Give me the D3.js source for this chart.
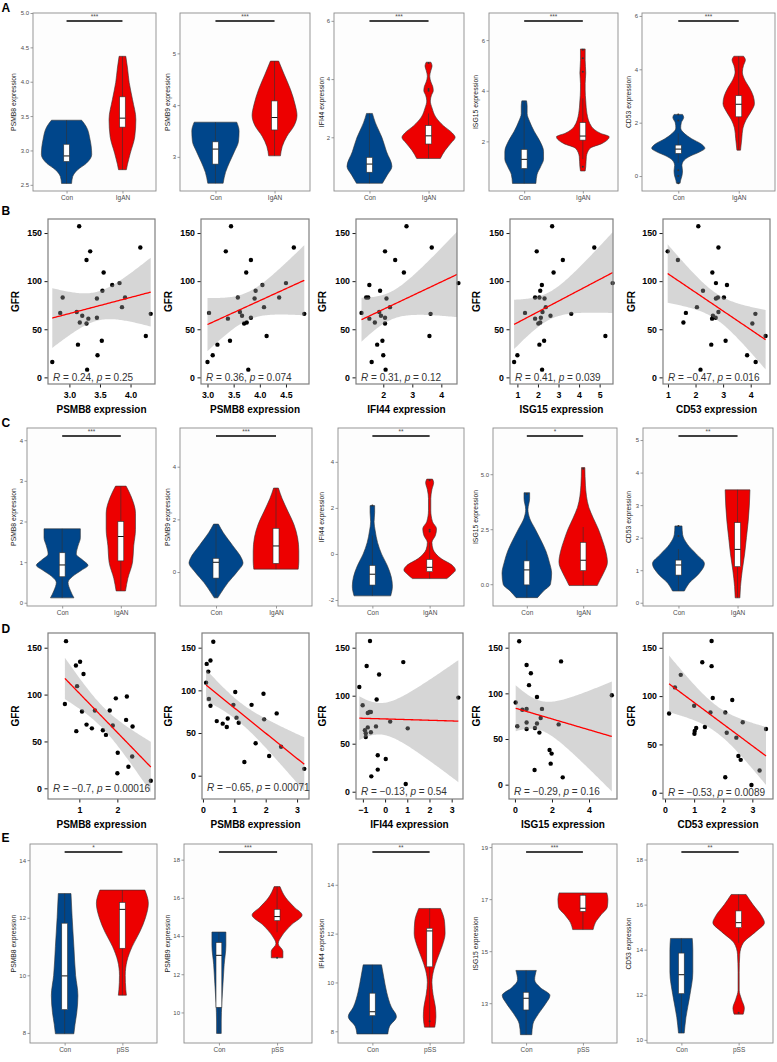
<!DOCTYPE html>
<html>
<head>
<meta charset="utf-8">
<script src="https://cdn.jsdelivr.net/npm/d3@7"></script>
<style>
body { margin: 0; background: #fff; }
svg { display: block; }
</style>
</head>
<body>
<script>
// ---------- data ----------
var genes = ["PSMB8", "PSMB9", "IFI44", "ISG15", "CD53"];
var corrGenes = ["PSMB8", "PSMB8", "IFI44", "ISG15", "CD53"];

// violin outlines: [expression, half width as share of the spacing between groups]
// boxes: [lower whisker, q1, median, q3, upper whisker]
var aGroups = ["Con", "IgAN"];
var aStars = ["***", "***", "***", "***", "***"];
var aConShape = [
  [[3.44,0.27],[3.35,0.35],[3.16,0.42],[2.94,0.45],[2.81,0.35],[2.72,0.2],[2.62,0.11],[2.52,0.09]],
  [[3.67,0.36],[3.5,0.4],[3.3,0.39],[3.1,0.32],[2.9,0.24],[2.7,0.17],[2.49,0.13]],
  [[2.82,0.05],[2.5,0.1],[2.0,0.21],[1.5,0.29],[1.0,0.38],[0.7,0.3],[0.42,0.22]],
  [[3.6,0.04],[3.4,0.05],[3.1,0.05],[2.8,0.09],[2.4,0.17],[2.0,0.27],[1.6,0.33],[1.3,0.33],[1.0,0.28],[0.7,0.22],[0.34,0.2]],
  [[2.31,0.07],[2.2,0.09],[2.0,0.05],[1.8,0.04],[1.6,0.1],[1.4,0.22],[1.2,0.38],[1.04,0.44],[0.9,0.35],[0.75,0.2],[0.6,0.1],[0.4,0.06],[0.2,0.07],[0.0,0.06],[-0.15,0.04],[-0.27,0.03]]
];
var aCaseShape = [
  [[4.37,0.06],[4.2,0.09],[3.99,0.12],[3.74,0.18],[3.45,0.24],[3.2,0.22],[2.96,0.14],[2.8,0.09],[2.72,0.07]],
  [[4.85,0.07],[4.6,0.16],[4.3,0.27],[4.0,0.35],[3.8,0.38],[3.6,0.33],[3.4,0.21],[3.2,0.13],[3.02,0.1]],
  [[4.58,0.04],[4.45,0.06],[4.3,0.04],[4.1,0.02],[3.9,0.04],[3.75,0.07],[3.6,0.08],[3.45,0.05],[3.25,0.03],[3.0,0.06],[2.7,0.12],[2.4,0.25],[2.15,0.4],[2.0,0.45],[1.8,0.38],[1.55,0.28],[1.27,0.2]],
  [[5.65,0.04],[5.2,0.04],[4.7,0.05],[4.29,0.04],[4.03,0.04],[3.6,0.05],[3.1,0.07],[2.58,0.15],[2.32,0.3],[2.18,0.45],[1.92,0.33],[1.72,0.12],[1.39,0.06],[1.0,0.05],[0.83,0.04]],
  [[4.49,0.08],[4.35,0.11],[4.15,0.08],[3.9,0.06],[3.6,0.1],[3.3,0.18],[3.0,0.24],[2.72,0.26],[2.4,0.2],[2.1,0.12],[1.8,0.07],[1.4,0.05],[0.97,0.03]]
];
var aConBox = [[2.52,2.84,2.92,3.09,3.44],[2.49,2.86,3.15,3.29,3.67],[0.42,0.80,1.08,1.31,2.82],[0.34,0.93,1.29,1.68,3.6],[0.5,0.85,1.01,1.16,1.6]];
var aCaseBox = [[2.72,3.34,3.47,3.78,4.37],[3.02,3.52,3.76,4.08,4.85],[1.27,1.77,2.05,2.40,2.82],[1.3,2.05,2.21,2.74,3.7],[0.97,2.22,2.69,3.01,4.49]];
var aConOut = [[],[],[],[],[2.31,2.08,0.22,0.0,-0.27]];
var aCaseOut = [[],[],[4.55,3.66,3.6],[5.62,5.28,4.75,1.0],[]];
var aDomains = [[2.41,5.0],[2.34,5.78],[0.155,6.27],[0.04,7.07],[-0.56,6.11]];
var aTicks = [[2.5,3,3.5,4,4.5,5],[3,4,5],[2,4,6],[2,4,6],[0,2,4,6]];

var cGroups = ["Con", "IgAN"];
var cStars = ["***", "***", "**", "*", "**"];
var cConShape = [
  [[1.82,0.31],[1.6,0.31],[1.4,0.27],[1.2,0.24],[1.05,0.35],[0.92,0.44],[0.8,0.33],[0.65,0.18],[0.5,0.1],[0.3,0.14],[0.12,0.2]],
  [[1.82,0.04],[1.5,0.12],[1.0,0.28],[0.5,0.43],[0.35,0.45],[0.0,0.35],[-0.4,0.2],[-0.8,0.08],[-0.98,0.03]],
  [[2.1,0.04],[1.8,0.04],[1.4,0.03],[1.0,0.05],[0.5,0.09],[0.0,0.16],[-0.5,0.26],[-1.0,0.33],[-1.4,0.35],[-1.82,0.32]],
  [[4.16,0.05],[3.9,0.05],[3.4,0.02],[3.0,0.05],[2.5,0.15],[2.0,0.25],[1.5,0.34],[1.0,0.4],[0.5,0.44],[0.0,0.42],[-0.3,0.3],[-0.61,0.19]],
  [[2.36,0.06],[2.1,0.07],[1.8,0.15],[1.5,0.3],[1.2,0.44],[0.9,0.35],[0.6,0.18],[0.36,0.1]]
];
var cCaseShape = [
  [[2.87,0.09],[2.6,0.18],[2.2,0.25],[1.8,0.25],[1.4,0.22],[1.0,0.2],[0.6,0.12],[0.29,0.08]],
  [[3.19,0.04],[2.8,0.1],[2.3,0.2],[1.8,0.3],[1.3,0.36],[0.8,0.38],[0.4,0.38],[0.11,0.37]],
  [[3.25,0.05],[3.1,0.07],[2.8,0.04],[2.4,0.02],[1.9,0.02],[1.4,0.05],[1.1,0.12],[0.8,0.1],[0.5,0.04],[0.2,0.06],[-0.2,0.2],[-0.5,0.4],[-0.7,0.45],[-0.9,0.38],[-1.07,0.3]],
  [[5.3,0.03],[4.5,0.04],[3.5,0.1],[3.0,0.18],[2.5,0.27],[2.0,0.34],[1.5,0.4],[1.0,0.43],[0.5,0.36],[0.2,0.3],[-0.06,0.25]],
  [[3.47,0.21],[3.0,0.2],[2.5,0.18],[2.0,0.15],[1.5,0.12],[1.0,0.08],[0.5,0.05],[0.15,0.04]]
];
var cConBox = [[0.12,0.64,0.93,1.23,1.82],[-0.98,-0.23,0.37,0.52,1.82],[-1.82,-1.35,-0.88,-0.5,0.8],[-0.61,-0.03,0.65,1.06,2.0],[0.36,0.85,1.16,1.31,1.65]];
var cCaseBox = [[0.29,1.03,1.63,2.0,2.87],[0.11,0.33,0.99,1.66,3.19],[-1.07,-0.77,-0.58,-0.24,0.5],[-0.06,0.62,1.09,1.90,2.6],[0.15,1.11,1.64,2.46,3.47]];
var cConOut = [[],[],[2.1],[4.1],[2.36,2.05]];
var cCaseOut = [[],[],[3.2,1.05,0.98],[5.25],[]];
var cDomains = [[-0.08,4.30],[-1.29,5.47],[-2.26,5.47],[-0.99,7.1],[-0.1,5.37]];
var cTicks = [[0,1,2,3,4],[0,2,4],[-2,0,2,4],[0,2.5,5],[0,1,2,3,4,5]];

var eGroups = ["Con", "pSS"];
var eStars = ["*", "***", "**", "***", "**"];
var eConShape = [
  [[12.84,0.11],[12,0.13],[11,0.16],[10,0.19],[9.3,0.23],[8.7,0.21],[8.3,0.18],[7.97,0.16]],
  [[14.21,0.12],[13.5,0.12],[12.5,0.09],[11.5,0.07],[10.5,0.05],[9.5,0.04],[8.9,0.04]],
  [[10.72,0.16],[10.2,0.2],[9.6,0.25],[9.0,0.33],[8.6,0.42],[8.2,0.3],[7.89,0.27]],
  [[14.26,0.18],[13.9,0.15],[13.6,0.25],[13.3,0.42],[13.0,0.35],[12.6,0.22],[12.2,0.12],[11.79,0.1]],
  [[14.5,0.19],[14.0,0.2],[13.0,0.2],[12.0,0.15],[11.0,0.08],[10.3,0.05]]
];
var eCaseShape = [
  [[12.96,0.39],[12.5,0.45],[12.0,0.4],[11.5,0.3],[11.0,0.17],[10.5,0.08],[10.0,0.05],[9.5,0.06],[9.31,0.07]],
  [[16.59,0.05],[16.0,0.15],[15.5,0.3],[15.1,0.43],[14.6,0.25],[14.0,0.08],[13.6,0.02],[13.2,0.1],[12.86,0.1]],
  [[13.03,0.19],[12.5,0.26],[12.0,0.27],[11.5,0.22],[11.0,0.14],[10.5,0.07],[10.0,0.04],[9.5,0.06],[9.0,0.1],[8.6,0.11],[8.17,0.09]],
  [[17.24,0.42],[17.0,0.44],[16.7,0.43],[16.4,0.32],[16.1,0.22],[15.83,0.18]],
  [[16.45,0.13],[16.0,0.25],[15.5,0.4],[15.2,0.45],[14.8,0.3],[14.3,0.08],[13.8,0.02],[13.0,0.01],[12.2,0.01],[11.8,0.05],[11.4,0.1],[11.14,0.08]]
];
var eConBox = [[7.97,8.81,9.98,11.81,12.84],[8.9,10.27,12.99,13.66,14.21],[7.89,8.64,8.80,9.56,10.72],[11.79,12.74,13.19,13.42,14.26],[10.3,12.05,12.89,13.85,14.5]];
var eCaseBox = [[9.31,10.94,12.29,12.53,12.96],[14.2,14.81,15.02,15.4,16.59],[8.17,10.64,12.11,12.22,13.03],[15.83,16.53,16.65,17.15,17.24],[14.3,14.98,15.2,15.72,16.45]];
var eConOut = [[],[],[],[],[]];
var eCaseOut = [[],[12.86],[8.41],[],[11.2]];
var eDomains = [[7.65,14.56],[8.4,18.82],[7.52,15.67],[11.47,19.12],[9.86,18.69]];
var eTicks = [[8,10,12,14],[10,12,14,16,18],[8,10,12,14],[13,15,17,19],[10,12,14,16,18]];

// GFR of the patients, same order for every gene in a row
var gfrB = [157,135,131,122,109,98,96,90,83,83,82,73,68,67,66,64,62,61,57,56,43,38,34,23,16,8];
var b1X = [3.16,4.16,3.34,3.28,3.56,3.82,3.70,3.54,2.89,3.91,3.45,3.86,3.12,2.85,4.33,3.21,3.45,3.31,3.17,3.28,4.25,3.53,3.14,3.46,2.72,3.29];
var b2X = [3.45,4.65,3.35,3.83,3.74,4.50,4.05,3.92,3.58,4.37,3.90,4.08,3.62,3.03,4.85,3.66,3.83,3.39,3.75,3.70,4.13,3.43,3.19,3.10,3.00,3.78];
var b3X = [2.80,3.67,2.06,2.41,2.71,4.59,1.52,1.89,1.41,1.48,2.11,2.23,1.86,1.25,3.63,1.92,2.06,1.52,1.71,2.06,3.59,1.97,1.79,2.00,1.60,2.08];
var b4X = [2.69,4.74,1.94,3.21,2.76,5.63,2.19,2.11,1.86,2.07,2.32,2.38,2.22,1.37,3.62,2.61,2.14,1.86,2.11,2.02,5.28,2.30,2.07,1.00,0.84,2.20];
var b5X = [2.10,2.83,0.99,1.36,2.61,2.74,3.14,2.27,3.03,2.81,2.74,2.05,2.83,1.65,4.17,2.63,2.73,2.60,1.56,4.06,4.54,3.09,2.57,3.87,4.18,2.18];
var bLabels = ["0.24|0.25", "0.36|0.074", "0.31|0.12", "0.41|0.039", "\u22120.47|0.016"];
var bXTicks = [[3.0,3.5,4.0],[3.0,3.5,4.0,4.5],[2,3,4],[1,2,3,4,5],[1,2,3,4]];

var gfrD = [157,135,131,122,109,98,96,90,83,83,82,73,68,67,66,64,62,61,57,38,34,23,16,8];
var d1X = [0.65,1.02,0.91,1.11,0.94,2.25,1.96,0.62,1.41,1.80,1.07,2.23,1.19,1.88,2.40,1.33,1.62,0.92,1.70,2.01,2.39,2.29,2.00,2.88];
var d2X = [0.33,0.24,0.12,0.17,0.10,1.03,1.93,0.19,0.97,1.55,0.24,2.35,1.07,0.79,1.95,0.44,1.14,0.63,0.76,1.68,2.49,2.11,1.32,3.23];
var d3X = [-0.68,0.82,-0.83,-0.27,-1.16,3.30,-0.38,-1.01,-0.70,-0.64,-0.78,0.23,-0.41,-0.78,1.02,-0.91,-0.64,-0.87,-0.87,-0.33,0.03,-0.33,-0.62,0.93];
var d4X = [0.23,2.49,0.63,0.86,0.76,5.23,1.19,0.04,0.63,1.46,0.40,1.39,0.63,1.19,2.36,0.13,1.08,0.63,1.32,1.87,1.98,1.93,1.06,2.58];
var d5X = [1.60,1.28,1.60,0.54,0.34,1.64,2.31,1.00,1.56,2.07,0.14,2.67,1.37,1.07,3.47,1.02,2.12,1.01,2.45,2.52,2.60,3.25,2.07,2.97];
var dLabels = ["\u22120.7|0.00016", "\u22120.65|0.00071", "\u22120.13|0.54", "\u22120.29|0.16", "\u22120.53|0.0089"];
var dXTicks = [[1,2],[0,1,2,3],[-1,0,1,2,3],[0,2,4],[0,1,2,3]];
var gfrTicks = [0,50,100,150];

// ---------- layout ----------
var FONT = "'Liberation Sans', Arial, Helvetica, sans-serif";
var conColor = "#00468B", caseColor = "#ED0000";
var titleX = [14, 168, 321.5, 475.5, 629];
var gfrTitleX = [15, 168.5, 322.5, 476.5, 631];

var rowA = { top: 13, bottom: 191, left: [33,180,334,489,642], right: [156,310,464,618,775] };
var rowC = { top: 428, bottom: 606, left: [27,180,338,493,643], right: [156,312,464,617,773] };
var rowE = { top: 844, bottom: 1043, left: [30,184,338,492,647], right: [157,312,464,617,773] };
var rowB = { top: 219, bottom: 384, left: [48,201,356,510,663], right: [155,309,457,613,770],
  xDom: [[2.65,4.40],[2.876,4.94],[1.06,4.54],[0.64,5.65],[0.82,4.70]],
  yDom: [[-6.9,164.6],[-6.9,164.6],[-6.9,164.6],[-6.9,164.6],[-6.9,164.6]],
  labelY: [0,0,0,0,0] };
var rowD = { top: 633, bottom: 799, left: [48,202,356,509,663], right: [155,309,463,617,773],
  xDom: [[0.176,2.99],[-0.03,3.38],[-1.31,3.51],[-0.32,5.51],[-0.07,3.71]],
  yDom: [[-11.4,165.7],[-27.3,167.2],[-7.6,165.3],[-15.7,166.1],[-6.5,165.3]],
  labelY: [0,-14,0,-7,0] };

var svg = d3.select("body").append("svg")
  .attr("width", 777).attr("height", 1062)
  .style("font-family", FONT);

var clipId = 0;

function styleAxis(ax, size, color, weight, lineColor, lineW) {
  ax.select(".domain").remove();
  ax.selectAll("text").attr("fill", color).style("font-size", size + "px")
    .style("font-family", FONT).style("font-weight", weight);
  ax.selectAll("line").attr("stroke", lineColor).attr("stroke-width", lineW);
}

// one violin + box panel
function violinPanel(row, i, groups, star, conShape, caseShape, conBox, caseBox, conOut, caseOut, domain, ticks) {
  var L = row.left[i], R = row.right[i], T = row.top, B = row.bottom;
  var x = d3.scaleLinear().domain([0.4, 2.6]).range([L, R]);
  var y = d3.scaleLinear().domain(domain).range([B, T]);
  var band = x(2) - x(1);
  var g = svg.append("g");

  g.append("rect").attr("x", L).attr("y", T).attr("width", R - L).attr("height", B - T).attr("fill", "#fdfdfd");

  var sets = [
    { c: 1, shape: conShape, box: conBox, out: conOut, fill: conColor },
    { c: 2, shape: caseShape, box: caseBox, out: caseOut, fill: caseColor }
  ];
  sets.forEach(function(s) {
    var cx = x(s.c);
    var area = d3.area().curve(d3.curveMonotoneY)
      .y(function(d) { return y(d[0]); })
      .x0(function(d) { return cx - d[1] * band; })
      .x1(function(d) { return cx + d[1] * band; });
    g.append("path").datum(s.shape).attr("d", area)
      .attr("fill", s.fill).attr("stroke", "#333").attr("stroke-width", 0.6);

    var b = s.box, bw = 0.1 * band;
    g.append("line").attr("x1", cx).attr("x2", cx).attr("y1", y(b[0])).attr("y2", y(b[4]))
      .attr("stroke", "#333").attr("stroke-width", 0.6);
    g.append("rect").attr("x", cx - bw / 2).attr("width", bw)
      .attr("y", y(b[3])).attr("height", y(b[1]) - y(b[3]))
      .attr("fill", "#fff").attr("stroke", "#333").attr("stroke-width", 0.6);
    g.append("line").attr("x1", cx - bw / 2).attr("x2", cx + bw / 2).attr("y1", y(b[2])).attr("y2", y(b[2]))
      .attr("stroke", "#111").attr("stroke-width", 1);
    g.selectAll(null).data(s.out).join("circle")
      .attr("cx", cx).attr("cy", function(d) { return y(d); }).attr("r", 1)
      .attr("fill", "#333");
  });

  // significance bar
  var barY = T + 8;
  g.append("line").attr("x1", x(1)).attr("x2", x(2)).attr("y1", barY).attr("y2", barY)
    .attr("stroke", "#000").attr("stroke-width", 1.4);
  g.append("text").attr("x", x(1.5)).attr("y", barY - 2.5).attr("text-anchor", "middle")
    .attr("fill", "#4d4d4d").style("font-size", "6.5px").text(star);

  var dec = ticks.some(function(t) { return t % 1 !== 0; });
  var yAxis = d3.axisLeft(y).tickValues(ticks).tickSize(2.5).tickPadding(1.5)
    .tickFormat(function(d) { return dec ? d.toFixed(1) : String(d); });
  styleAxis(g.append("g").attr("transform", "translate(" + L + ",0)").call(yAxis), 6, "#4d4d4d", "normal", "#333", 0.5);

  var xAxis = d3.axisBottom(x).tickValues([1, 2]).tickSize(2.5).tickPadding(2)
    .tickFormat(function(d) { return groups[d - 1]; });
  styleAxis(g.append("g").attr("transform", "translate(0," + B + ")").call(xAxis), 6.5, "#4d4d4d", "normal", "#333", 0.5);

  g.append("rect").attr("x", L).attr("y", T).attr("width", R - L).attr("height", B - T)
    .attr("fill", "none").attr("stroke", "#8c8c8c").attr("stroke-width", 0.9);

  g.append("text")
    .attr("transform", "translate(" + titleX[i] + "," + ((T + B) / 2) + ") rotate(-90)")
    .attr("text-anchor", "middle").attr("dy", "0.35em")
    .attr("fill", "#222").style("font-size", "6.8px")
    .text(genes[i] + " expression");
}

// linear fit with 95% confidence band
function lmBand(xs, ys) {
  var n = xs.length, mx = d3.mean(xs), my = d3.mean(ys);
  var sxx = d3.sum(xs, function(v) { return (v - mx) * (v - mx); });
  var sxy = d3.sum(xs, function(v, k) { return (v - mx) * (ys[k] - my); });
  var b = sxy / sxx, a = my - b * mx;
  var s = Math.sqrt(d3.sum(xs, function(v, k) { return Math.pow(ys[k] - a - b * v, 2); }) / (n - 2));
  var t = (n - 2) === 24 ? 2.0639 : (n - 2) === 22 ? 2.0739 : 2.07;
  var ext = d3.extent(xs);
  return d3.range(81).map(function(k) {
    var xv = ext[0] + (ext[1] - ext[0]) * k / 80;
    var f = a + b * xv;
    var se = s * Math.sqrt(1 / n + (xv - mx) * (xv - mx) / sxx);
    return { x: xv, y: f, lo: f - t * se, hi: f + t * se };
  });
}

function scatterPanel(row, i, xs, ys, xTicks, label) {
  var L = row.left[i], R = row.right[i], T = row.top, B = row.bottom;
  var x = d3.scaleLinear().domain(row.xDom[i]).range([L, R]);
  var y = d3.scaleLinear().domain(row.yDom[i]).range([B, T]);
  var g = svg.append("g");
  var id = "clip" + (clipId++);
  g.append("clipPath").attr("id", id).append("rect")
    .attr("x", L).attr("y", T).attr("width", R - L).attr("height", B - T);

  g.append("rect").attr("x", L).attr("y", T).attr("width", R - L).attr("height", B - T).attr("fill", "#fff");

  g.selectAll(null).data(xs).join("circle")
    .attr("cx", function(d) { return x(d); })
    .attr("cy", function(d, k) { return y(ys[k]); })
    .attr("r", 2.2).attr("fill", "#000");

  var fit = lmBand(xs, ys);
  g.append("path").datum(fit).attr("clip-path", "url(#" + id + ")")
    .attr("d", d3.area().x(function(d) { return x(d.x); })
      .y0(function(d) { return y(d.lo); }).y1(function(d) { return y(d.hi); }))
    .attr("fill", "#999").attr("fill-opacity", 0.4);
  g.append("path").datum(fit).attr("clip-path", "url(#" + id + ")")
    .attr("d", d3.line().x(function(d) { return x(d.x); }).y(function(d) { return y(d.y); }))
    .attr("fill", "none").attr("stroke", "#ff0000").attr("stroke-width", 1.3);

  var dec = xTicks.some(function(t) { return t % 1 !== 0; });
  var xAxis = d3.axisBottom(x).tickValues(xTicks).tickSize(3.5).tickPadding(4.5)
    .tickFormat(dec ? d3.format(".1f") : d3.format("d"));
  styleAxis(g.append("g").attr("transform", "translate(0," + B + ")").call(xAxis), 8.8, "#000", "bold", "#000", 0.9);
  var yAxis = d3.axisLeft(y).tickValues(gfrTicks).tickSize(3.5).tickPadding(2.5);
  styleAxis(g.append("g").attr("transform", "translate(" + L + ",0)").call(yAxis), 8.8, "#000", "bold", "#000", 0.9);

  g.append("rect").attr("x", L).attr("y", T).attr("width", R - L).attr("height", B - T)
    .attr("fill", "none").attr("stroke", "#7f7f7f").attr("stroke-width", 1.2);

  var parts = label.split("|");
  var txt = g.append("text").attr("x", L + 5).attr("y", y(row.labelY[i])).attr("dy", "0.35em")
    .attr("fill", "#333").style("font-size", "10px");
  txt.append("tspan").style("font-style", "italic").text("R");
  txt.append("tspan").text(" = " + parts[0] + ", ");
  txt.append("tspan").style("font-style", "italic").text("p");
  txt.append("tspan").text(" = " + parts[1]);

  g.append("text").attr("x", (L + R) / 2).attr("y", B + 28.5).attr("text-anchor", "middle")
    .style("font-size", "10px").style("font-weight", "bold").attr("fill", "#000")
    .text(corrGenes[i] + " expression");
  g.append("text")
    .attr("transform", "translate(" + gfrTitleX[i] + "," + ((T + B) / 2) + ") rotate(-90)")
    .attr("text-anchor", "middle").attr("dy", "0.35em")
    .style("font-size", "10px").style("font-weight", "bold").attr("fill", "#000")
    .text("GFR");
}

// ---------- draw ----------
for (var i = 0; i < 5; i++) {
  violinPanel(rowA, i, aGroups, aStars[i], aConShape[i], aCaseShape[i], aConBox[i], aCaseBox[i], aConOut[i], aCaseOut[i], aDomains[i], aTicks[i]);
  violinPanel(rowC, i, cGroups, cStars[i], cConShape[i], cCaseShape[i], cConBox[i], cCaseBox[i], cConOut[i], cCaseOut[i], cDomains[i], cTicks[i]);
  violinPanel(rowE, i, eGroups, eStars[i], eConShape[i], eCaseShape[i], eConBox[i], eCaseBox[i], eConOut[i], eCaseOut[i], eDomains[i], eTicks[i]);
}
var bXs = [b1X, b2X, b3X, b4X, b5X];
var dXs = [d1X, d2X, d3X, d4X, d5X];
for (var j = 0; j < 5; j++) {
  scatterPanel(rowB, j, bXs[j], gfrB, bXTicks[j], bLabels[j]);
  scatterPanel(rowD, j, dXs[j], gfrD, dXTicks[j], dLabels[j]);
}

// panel letters
var letters = [["A", 11.5], ["B", 215], ["C", 426.5], ["D", 632.5], ["E", 842]];
svg.selectAll(".letter").data(letters).join("text")
  .attr("class", "letter")
  .attr("x", 1.5).attr("y", function(d) { return d[1]; })
  .style("font-size", "12px").style("font-weight", "bold").attr("fill", "#000")
  .text(function(d) { return d[0]; });
</script>
</body>
</html>
